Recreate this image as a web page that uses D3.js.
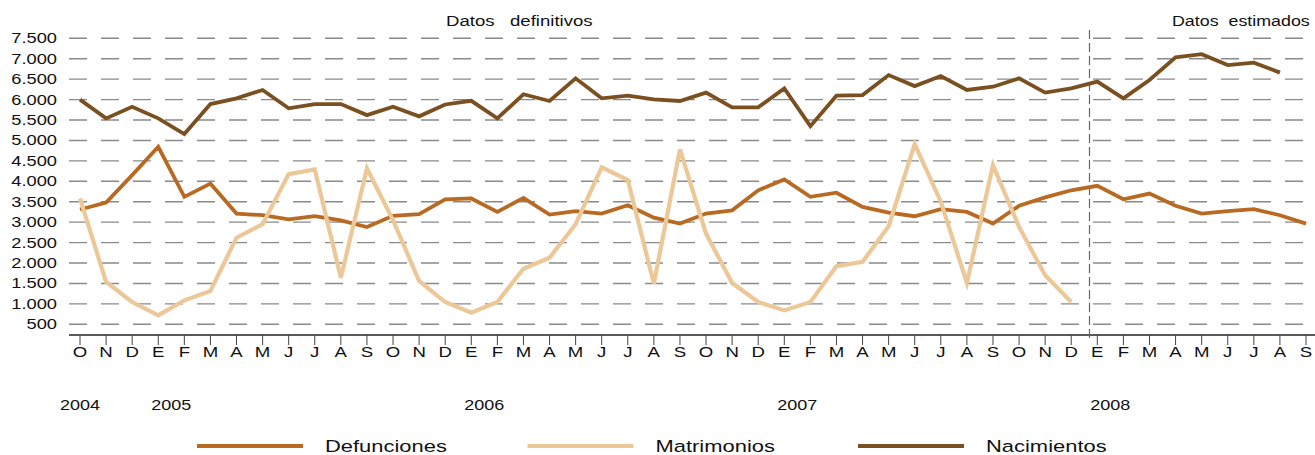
<!DOCTYPE html>
<html>
<head>
<meta charset="utf-8">
<script src="https://cdn.jsdelivr.net/npm/d3@7"></script>
<style>
  body { margin: 0; background: #fff; }
  svg text { font-family: "Liberation Sans", Arial, sans-serif; fill: #111; transform-box: fill-box; }
</style>
</head>
<body>
<svg id="chart"></svg>
<script>
const W = 1315;
const H = 455;

// Oct 2004 .. Sep 2008
const months = ["O","N","D",
  "E","F","M","A","M","J","J","A","S","O","N","D",
  "E","F","M","A","M","J","J","A","S","O","N","D",
  "E","F","M","A","M","J","J","A","S","O","N","D",
  "E","F","M","A","M","J","J","A","S"];
const years = [{label: "2004", at: 0}, {label: "2005", at: 3.5}, {label: "2006", at: 15.5},
  {label: "2007", at: 27.5}, {label: "2008", at: 39.5}];
const yTicks = [500,1000,1500,2000,2500,3000,3500,4000,4500,5000,5500,6000,6500,7000,7500];

const defunciones = [3310,3480,4150,4845,3620,3945,3210,3170,3070,3145,3045,2880,3155,3195,
  3560,3580,3250,3595,3185,3270,3210,3415,3110,2965,3210,3290,3780,4045,3620,3720,
  3375,3235,3145,3320,3250,2965,3400,3605,3780,3890,3560,3700,3400,3210,3270,3320,3170,2965];
const matrimonios = [3580,1535,1045,720,1085,1315,2620,2950,4175,4290,1640,4315,3050,1560,
  1045,785,1045,1860,2130,2950,4340,4030,1495,4780,2720,1510,1045,840,1045,1920,
  2030,2900,4910,3500,1510,4395,2885,1700,1045];
const nacimientos = [6000,5540,5825,5540,5155,5890,6030,6235,5785,5890,5890,5620,5825,5590,
  5880,5970,5540,6130,5965,6520,6030,6095,6005,5965,6170,5810,5810,6275,5350,6095,
  6110,6600,6330,6575,6235,6315,6520,6170,6275,6440,6030,6480,7035,7110,6845,6905,6660];

const series = [
  {name: "Defunciones", values: defunciones, color: "#b86a22", width: 3.8},
  {name: "Matrimonios", values: matrimonios, color: "#ecc899", width: 4.2},
  {name: "Nacimientos", values: nacimientos, color: "#7a5020", width: 3.8}
];

const svg = d3.select("#chart").attr("width", W).attr("height", H);

const x = d3.scaleLinear().domain([0, months.length - 1]).range([80, 1306]);
const y = d3.scaleLinear().domain([500, 7500]).range([324.3, 38.3]);
const fmt = d3.formatLocale({decimal: ",", thousands: ".", grouping: [3], currency: ["", "€"]}).format(",");

const gridLeft = 69, gridRight = 1315, axisY = 335;

// the original type is wider than Liberation Sans, stretch glyphs horizontally
function stretch(sel, s, origin) {
  sel.style("transform-origin", origin + " center").style("transform", "scaleX(" + s + ")");
}

// dashed horizontal grid
svg.append("g").selectAll("line").data(yTicks).enter().append("line")
  .attr("x1", gridLeft).attr("x2", gridRight)
  .attr("y1", d => y(d)).attr("y2", d => y(d))
  .attr("stroke", "#8a8a8a").attr("stroke-width", 1.4)
  .attr("stroke-dasharray", "18,14");

// y labels
svg.append("g").selectAll("text").data(yTicks).enter().append("text")
  .attr("x", 57).attr("y", d => y(d) + 5)
  .attr("text-anchor", "end").attr("font-size", 15)
  .text(d => fmt(d))
  .call(stretch, 1.22, "right");

// x axis line and ticks
svg.append("line").attr("x1", gridLeft).attr("x2", gridRight)
  .attr("y1", axisY).attr("y2", axisY).attr("stroke", "#222").attr("stroke-width", 1.5);
svg.append("g").selectAll("line").data(months).enter().append("line")
  .attr("x1", (d, i) => x(i)).attr("x2", (d, i) => x(i))
  .attr("y1", axisY).attr("y2", axisY + 10)
  .attr("stroke", "#444").attr("stroke-width", 1);

svg.append("g").selectAll("text").data(months).enter().append("text")
  .attr("x", (d, i) => x(i)).attr("y", 357)
  .attr("text-anchor", "middle").attr("font-size", 15.5)
  .text(d => d)
  .call(stretch, 1.2, "center");

svg.append("g").selectAll("text").data(years).enter().append("text")
  .attr("x", d => x(d.at)).attr("y", 410)
  .attr("text-anchor", "middle").attr("font-size", 15)
  .text(d => d.label)
  .call(stretch, 1.2, "center");

// separator between definitive and estimated data
svg.append("line").attr("x1", x(38.7)).attr("x2", x(38.7))
  .attr("y1", 30).attr("y2", axisY + 5)
  .attr("stroke", "#666").attr("stroke-width", 1.2)
  .attr("stroke-dasharray", "9,4");

svg.append("text").attr("x", 446).attr("y", 26).attr("font-size", 15).attr("xml:space", "preserve")
  .text("Datos   definitivos")
  .call(stretch, 1.24, "left");
svg.append("text").attr("x", 1172).attr("y", 26).attr("font-size", 15).attr("xml:space", "preserve")
  .text("Datos  estimados")
  .call(stretch, 1.19, "left");

// lines
const line = d3.line().x((d, i) => x(i)).y(d => y(d));
svg.append("g").selectAll("path").data(series).enter().append("path")
  .attr("d", d => line(d.values))
  .attr("fill", "none")
  .attr("stroke", d => d.color)
  .attr("stroke-width", d => d.width)
  .attr("stroke-linejoin", "miter");

// legend
const legend = svg.append("g").selectAll("g").data(series).enter().append("g")
  .attr("transform", (d, i) => "translate(" + (197 + i * 330.5) + ",446)");
legend.append("line").attr("x1", 0).attr("x2", 106)
  .attr("stroke", d => d.color).attr("stroke-width", 4);
legend.append("text").attr("x", 128).attr("y", 5.5).attr("font-size", 16.5)
  .text(d => d.name)
  .call(stretch, 1.33, "left");
</script>
</body>
</html>
